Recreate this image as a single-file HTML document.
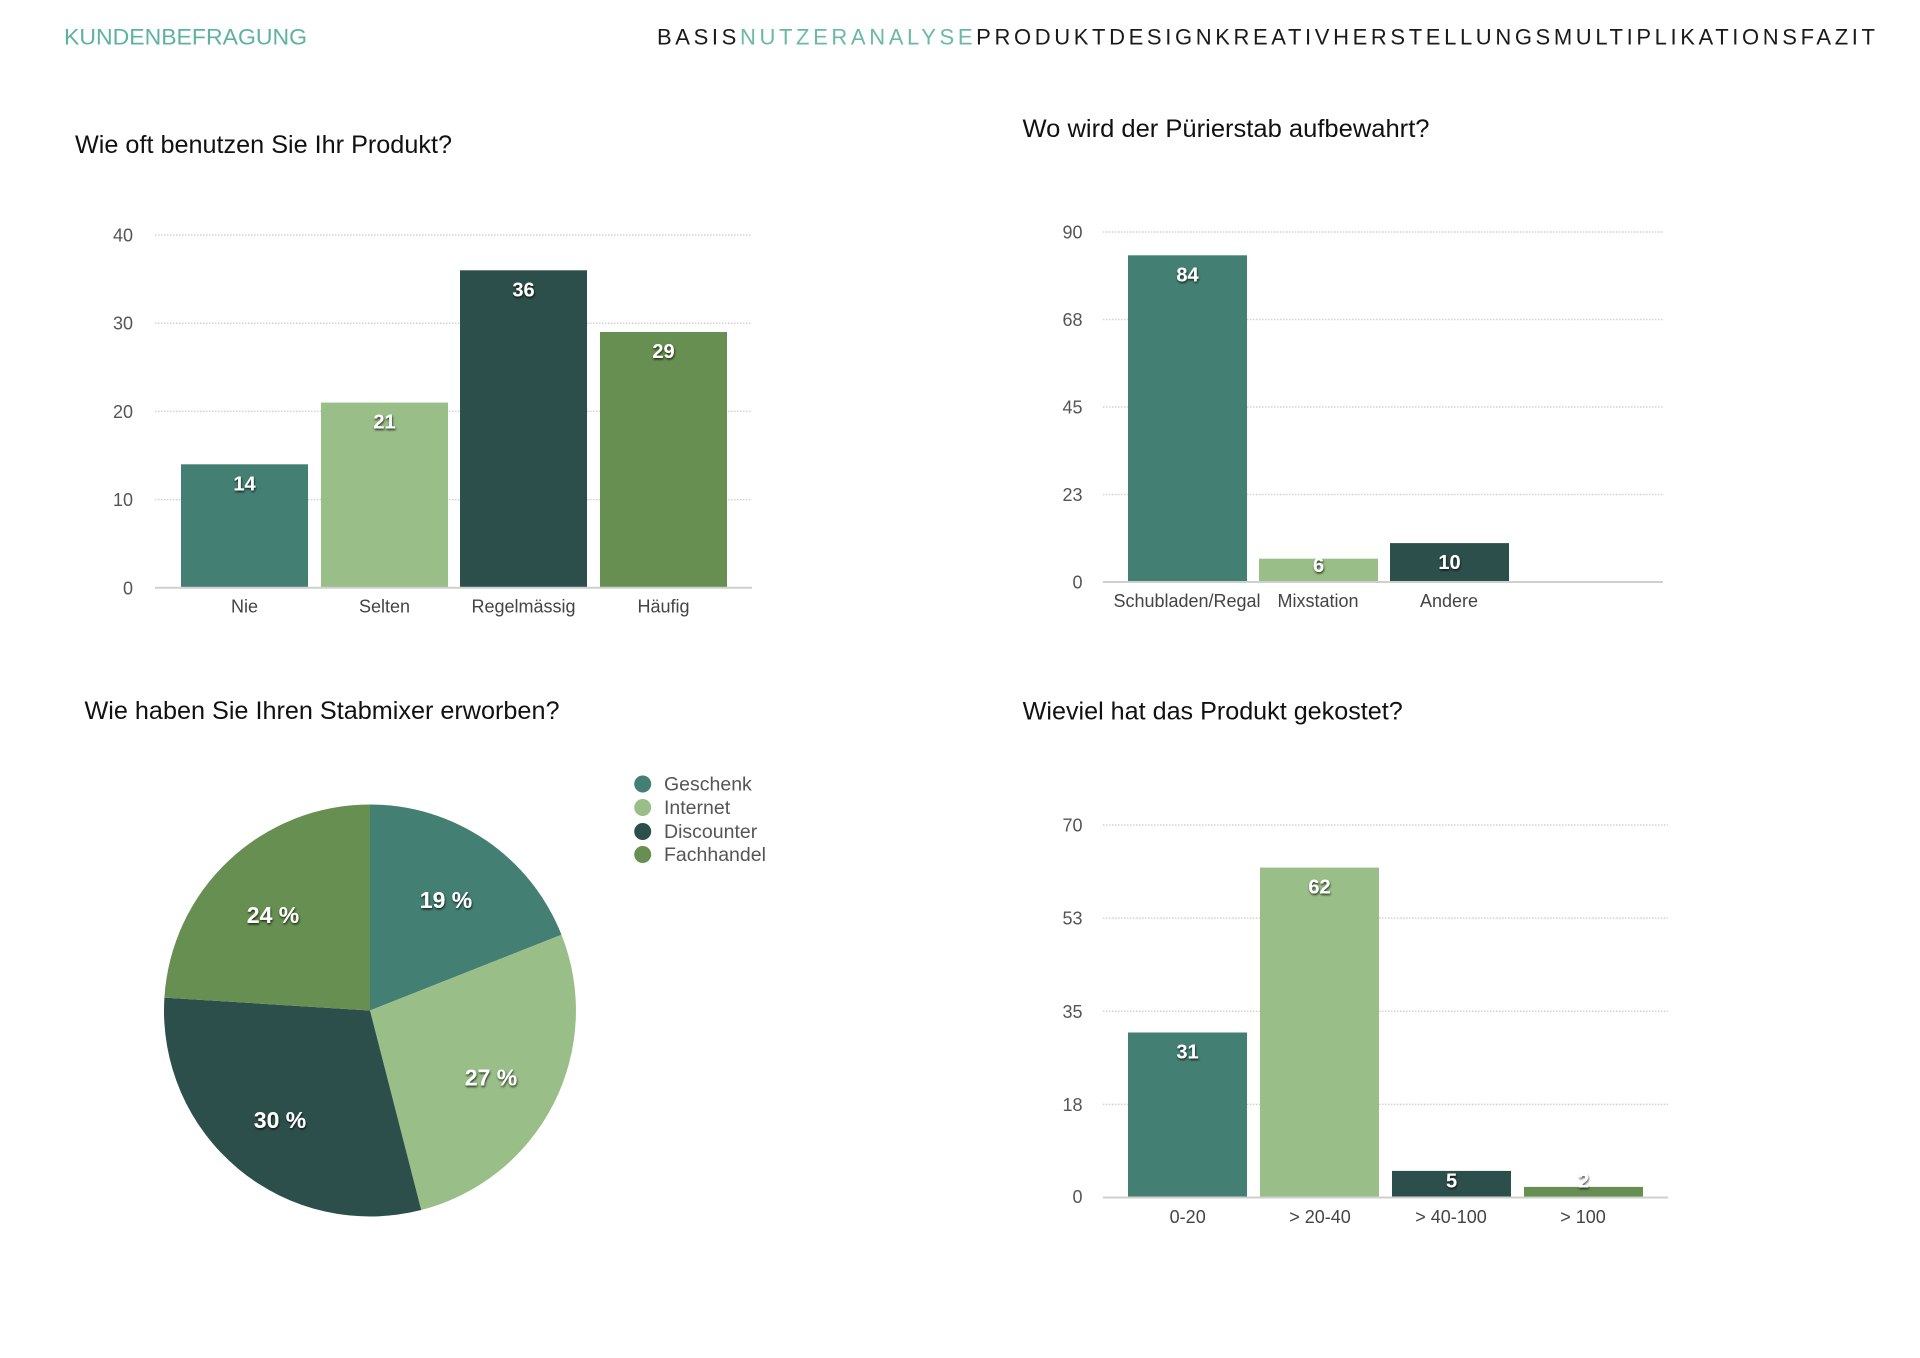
<!DOCTYPE html>
<html>
<head>
<meta charset="utf-8">
<style>
html,body{margin:0;padding:0;background:#fff;}
svg{display:block;}
text{font-family:"Liberation Sans",Arial,sans-serif;}
.tick{font-size:18px;fill:#555;text-anchor:end;}
.cat{font-size:18px;fill:#444;text-anchor:middle;}
.val{font-size:20px;font-weight:bold;fill:#fff;text-anchor:middle;filter:url(#sh);}
.pval{font-size:23px;font-weight:bold;fill:#fff;text-anchor:middle;filter:url(#sh);}
.title{font-size:25px;fill:#111;}
.grid{stroke:#d2d2d2;stroke-width:1.5;stroke-dasharray:1.5 1.5;}
.axis{stroke:#cfcfcf;stroke-width:2;}
.leg{font-size:19.5px;fill:#555;}
</style>
</head>
<body>
<svg width="1920" height="1358" viewBox="0 0 1920 1358" xmlns="http://www.w3.org/2000/svg">
<defs>
<filter id="sh" x="-30%" y="-30%" width="160%" height="180%">
<feDropShadow dx="0.6" dy="1.5" stdDeviation="1" flood-color="#000" flood-opacity="0.75"/>
</filter>
</defs>

<!-- Header -->
<text x="64" y="44.3" font-size="22" fill="#5db2a0" textLength="243" lengthAdjust="spacingAndGlyphs">KUNDENBEFRAGUNG</text>
<text x="657" y="44.3" font-size="22" fill="#1a1a1a" textLength="1218" lengthAdjust="spacing">BASIS<tspan fill="#6ab8a6">NUTZERANALYSE</tspan>PRODUKTDESIGNKREATIVHERSTELLUNGSMULTIPLIKATIONSFAZIT</text>

<!-- Chart 1 -->
<text class="title" x="75" y="153" textLength="377" lengthAdjust="spacingAndGlyphs">Wie oft benutzen Sie Ihr Produkt?</text>
<line class="grid" x1="155" y1="235" x2="752" y2="235"/>
<line class="grid" x1="155" y1="323.2" x2="752" y2="323.2"/>
<line class="grid" x1="155" y1="411.4" x2="752" y2="411.4"/>
<line class="grid" x1="155" y1="499.6" x2="752" y2="499.6"/>
<text class="tick" x="133" y="241.5">40</text>
<text class="tick" x="133" y="329.7">30</text>
<text class="tick" x="133" y="417.9">20</text>
<text class="tick" x="133" y="506.1">10</text>
<text class="tick" x="133" y="594.3">0</text>
<rect x="181" y="464.3" width="127" height="123.5" fill="#437f73"/>
<rect x="321" y="402.6" width="127" height="185.2" fill="#99be87"/>
<rect x="460" y="270.3" width="127" height="317.5" fill="#2d4f4b"/>
<rect x="600" y="332" width="127" height="255.8" fill="#678f51"/>
<line class="axis" x1="155" y1="587.8" x2="752" y2="587.8"/>
<text class="val" x="244.5" y="490.3">14</text>
<text class="val" x="384.5" y="428.6">21</text>
<text class="val" x="523.5" y="296.3">36</text>
<text class="val" x="663.5" y="358">29</text>
<text class="cat" x="244.5" y="612.5">Nie</text>
<text class="cat" x="384.5" y="612.5">Selten</text>
<text class="cat" x="523.5" y="612.5">Regelmässig</text>
<text class="cat" x="663.5" y="612.5">Häufig</text>

<!-- Chart 2 -->
<text class="title" x="1022.5" y="137" textLength="407" lengthAdjust="spacingAndGlyphs">Wo wird der Pürierstab aufbewahrt?</text>
<line class="grid" x1="1103" y1="232" x2="1663" y2="232"/>
<line class="grid" x1="1103" y1="319.5" x2="1663" y2="319.5"/>
<line class="grid" x1="1103" y1="407" x2="1663" y2="407"/>
<line class="grid" x1="1103" y1="494.5" x2="1663" y2="494.5"/>
<text class="tick" x="1082.5" y="238.5">90</text>
<text class="tick" x="1082.5" y="326">68</text>
<text class="tick" x="1082.5" y="413.5">45</text>
<text class="tick" x="1082.5" y="501">23</text>
<text class="tick" x="1082.5" y="588.5">0</text>
<rect x="1128" y="255.3" width="119" height="326.7" fill="#437f73"/>
<rect x="1259" y="558.7" width="119" height="23.3" fill="#99be87"/>
<rect x="1390" y="543.1" width="119" height="38.9" fill="#2d4f4b"/>
<line class="axis" x1="1103" y1="582" x2="1663" y2="582"/>
<text class="val" x="1187.5" y="281.3">84</text>
<text class="val" x="1318.5" y="572">6</text>
<text class="val" x="1449.5" y="569">10</text>
<text class="cat" x="1187" y="607">Schubladen/Regal</text>
<text class="cat" x="1318" y="607">Mixstation</text>
<text class="cat" x="1449" y="607">Andere</text>

<!-- Chart 3 (pie) -->
<text class="title" x="84.5" y="719" textLength="475" lengthAdjust="spacingAndGlyphs">Wie haben Sie Ihren Stabmixer erworben?</text>
<path d="M370,1010.5 L370,804.5 A206,206 0 0 1 561.5,934.7 Z" fill="#437f73"/>
<path d="M370,1010.5 L561.5,934.7 A206,206 0 0 1 421.2,1210 Z" fill="#99be87"/>
<path d="M370,1010.5 L421.2,1210 A206,206 0 0 1 164.4,997.6 Z" fill="#2d4f4b"/>
<path d="M370,1010.5 L164.4,997.6 A206,206 0 0 1 370,804.5 Z" fill="#678f51"/>
<text class="pval" x="446" y="908">19 %</text>
<text class="pval" x="491" y="1085.5">27 %</text>
<text class="pval" x="280" y="1128">30 %</text>
<text class="pval" x="273" y="923">24 %</text>
<circle cx="642.7" cy="784" r="8.5" fill="#437f73"/>
<circle cx="642.7" cy="807.5" r="8.5" fill="#99be87"/>
<circle cx="642.7" cy="831.5" r="8.5" fill="#2d4f4b"/>
<circle cx="642.7" cy="854.5" r="8.5" fill="#678f51"/>
<text class="leg" x="664" y="790.5">Geschenk</text>
<text class="leg" x="664" y="814">Internet</text>
<text class="leg" x="664" y="838">Discounter</text>
<text class="leg" x="664" y="861">Fachhandel</text>

<!-- Chart 4 -->
<text class="title" x="1022.7" y="719.3" textLength="380" lengthAdjust="spacingAndGlyphs">Wieviel hat das Produkt gekostet?</text>
<line class="grid" x1="1103" y1="825" x2="1668" y2="825"/>
<line class="grid" x1="1103" y1="918.1" x2="1668" y2="918.1"/>
<line class="grid" x1="1103" y1="1011.3" x2="1668" y2="1011.3"/>
<line class="grid" x1="1103" y1="1104.4" x2="1668" y2="1104.4"/>
<text class="tick" x="1082.5" y="831.5">70</text>
<text class="tick" x="1082.5" y="924.6">53</text>
<text class="tick" x="1082.5" y="1017.8">35</text>
<text class="tick" x="1082.5" y="1110.9">18</text>
<text class="tick" x="1082.5" y="1203">0</text>
<rect x="1128" y="1032.5" width="119" height="165" fill="#437f73"/>
<rect x="1260" y="867.6" width="119" height="329.9" fill="#99be87"/>
<rect x="1392" y="1170.9" width="119" height="26.6" fill="#2d4f4b"/>
<rect x="1524" y="1186.9" width="119" height="10.6" fill="#678f51"/>
<line class="axis" x1="1103" y1="1197.5" x2="1668" y2="1197.5"/>
<text class="val" x="1187.5" y="1058.5">31</text>
<text class="val" x="1319.5" y="893.6">62</text>
<text class="val" x="1451.5" y="1187.5">5</text>
<text class="val" x="1583.5" y="1187.5">2</text>
<text class="cat" x="1187.7" y="1223">0-20</text>
<text class="cat" x="1320" y="1223">&gt; 20-40</text>
<text class="cat" x="1451" y="1223">&gt; 40-100</text>
<text class="cat" x="1583" y="1223">&gt; 100</text>
</svg>
</body>
</html>
